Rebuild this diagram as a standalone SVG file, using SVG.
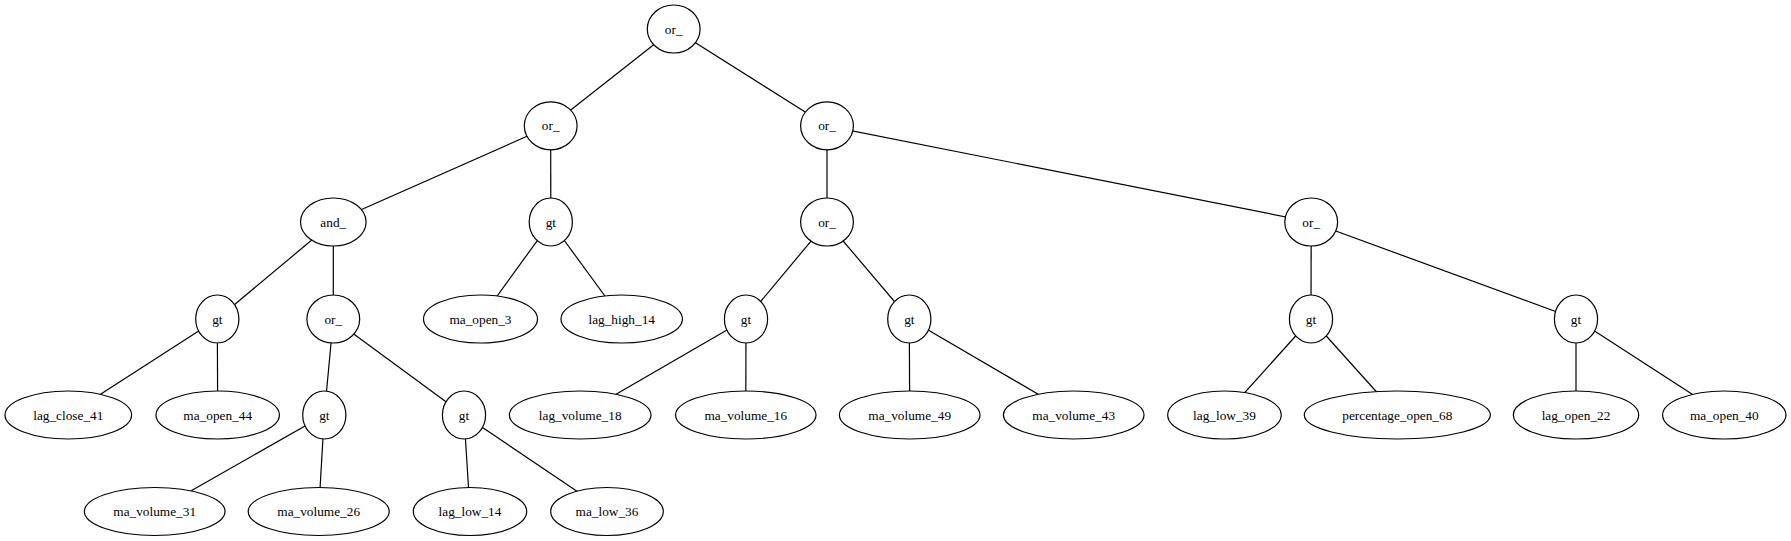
<svg xmlns="http://www.w3.org/2000/svg" width="1791" height="541" viewBox="0 0 1791 541">
<style>
.n ellipse{fill:#fff;stroke:#000;stroke-width:1.2}
.n text{font-family:"Liberation Serif","Times New Roman",serif;font-size:13.3px;text-anchor:middle;fill:#000}
#edges line{stroke:#000;stroke-width:1.2}
</style>
<rect width="1791" height="541" fill="#fff"/>
<g id="edges">
<line x1="673.7" y1="29" x2="550.7" y2="125.8"/>
<line x1="673.7" y1="29" x2="827" y2="125.8"/>
<line x1="550.7" y1="125.8" x2="333.3" y2="222"/>
<line x1="550.7" y1="125.8" x2="550.8" y2="222"/>
<line x1="827" y1="125.8" x2="827" y2="222"/>
<line x1="827" y1="125.8" x2="1311.2" y2="222"/>
<line x1="333.3" y1="222" x2="217.3" y2="319"/>
<line x1="333.3" y1="222" x2="333.3" y2="319"/>
<line x1="550.8" y1="222" x2="480.5" y2="319"/>
<line x1="550.8" y1="222" x2="621.7" y2="319"/>
<line x1="827" y1="222" x2="746" y2="319"/>
<line x1="827" y1="222" x2="909.3" y2="319"/>
<line x1="1311.2" y1="222" x2="1311" y2="319"/>
<line x1="1311.2" y1="222" x2="1576" y2="319"/>
<line x1="217.3" y1="319" x2="68.3" y2="415"/>
<line x1="217.3" y1="319" x2="217.7" y2="415"/>
<line x1="333.3" y1="319" x2="324.3" y2="415"/>
<line x1="333.3" y1="319" x2="464" y2="415"/>
<line x1="746" y1="319" x2="580.2" y2="415"/>
<line x1="746" y1="319" x2="745.8" y2="415"/>
<line x1="909.3" y1="319" x2="909.7" y2="415"/>
<line x1="909.3" y1="319" x2="1073.7" y2="415"/>
<line x1="1311" y1="319" x2="1224.5" y2="415"/>
<line x1="1311" y1="319" x2="1397.3" y2="415"/>
<line x1="1576" y1="319" x2="1576" y2="415"/>
<line x1="1576" y1="319" x2="1724.3" y2="415"/>
<line x1="324.3" y1="415" x2="154.7" y2="511.5"/>
<line x1="324.3" y1="415" x2="318.7" y2="511.5"/>
<line x1="464" y1="415" x2="470" y2="511.5"/>
<line x1="464" y1="415" x2="607" y2="511.5"/>
</g>
<g id="n0" class="n"><ellipse cx="673.7" cy="29" rx="26.4" ry="24"/><text x="673.7" y="33.5">or_</text></g>
<g id="n1" class="n"><ellipse cx="550.7" cy="125.8" rx="26.4" ry="24"/><text x="550.7" y="130.3">or_</text></g>
<g id="n2" class="n"><ellipse cx="827" cy="125.8" rx="26.4" ry="24"/><text x="827" y="130.3">or_</text></g>
<g id="n3" class="n"><ellipse cx="333.3" cy="222" rx="32.8" ry="24"/><text x="333.3" y="226.5">and_</text></g>
<g id="n4" class="n"><ellipse cx="550.8" cy="222" rx="21.6" ry="24"/><text x="550.8" y="226.5">gt</text></g>
<g id="n5" class="n"><ellipse cx="827" cy="222" rx="26.4" ry="24"/><text x="827" y="226.5">or_</text></g>
<g id="n6" class="n"><ellipse cx="1311.2" cy="222" rx="26.4" ry="24"/><text x="1311.2" y="226.5">or_</text></g>
<g id="n7" class="n"><ellipse cx="217.3" cy="319" rx="21.6" ry="24"/><text x="217.3" y="323.5">gt</text></g>
<g id="n8" class="n"><ellipse cx="333.3" cy="319" rx="26.4" ry="24"/><text x="333.3" y="323.5">or_</text></g>
<g id="n9" class="n"><ellipse cx="480.5" cy="319" rx="57" ry="24"/><text x="480.5" y="323.5">ma_open_3</text></g>
<g id="n10" class="n"><ellipse cx="621.7" cy="319" rx="60.7" ry="24"/><text x="621.7" y="323.5">lag_high_14</text></g>
<g id="n11" class="n"><ellipse cx="746" cy="319" rx="21.6" ry="24"/><text x="746" y="323.5">gt</text></g>
<g id="n12" class="n"><ellipse cx="909.3" cy="319" rx="21.6" ry="24"/><text x="909.3" y="323.5">gt</text></g>
<g id="n13" class="n"><ellipse cx="1311" cy="319" rx="21.6" ry="24"/><text x="1311" y="323.5">gt</text></g>
<g id="n14" class="n"><ellipse cx="1576" cy="319" rx="21.6" ry="24"/><text x="1576" y="323.5">gt</text></g>
<g id="n15" class="n"><ellipse cx="68.3" cy="415" rx="63.3" ry="24"/><text x="68.3" y="419.5">lag_close_41</text></g>
<g id="n16" class="n"><ellipse cx="217.7" cy="415" rx="61.7" ry="24"/><text x="217.7" y="419.5">ma_open_44</text></g>
<g id="n17" class="n"><ellipse cx="324.3" cy="415" rx="21.6" ry="24"/><text x="324.3" y="419.5">gt</text></g>
<g id="n18" class="n"><ellipse cx="464" cy="415" rx="21.6" ry="24"/><text x="464" y="419.5">gt</text></g>
<g id="n19" class="n"><ellipse cx="580.2" cy="415" rx="70.8" ry="24"/><text x="580.2" y="419.5">lag_volume_18</text></g>
<g id="n20" class="n"><ellipse cx="745.8" cy="415" rx="70.2" ry="24"/><text x="745.8" y="419.5">ma_volume_16</text></g>
<g id="n21" class="n"><ellipse cx="909.7" cy="415" rx="70.3" ry="24"/><text x="909.7" y="419.5">ma_volume_49</text></g>
<g id="n22" class="n"><ellipse cx="1073.7" cy="415" rx="70.3" ry="24"/><text x="1073.7" y="419.5">ma_volume_43</text></g>
<g id="n23" class="n"><ellipse cx="1224.5" cy="415" rx="56.8" ry="24"/><text x="1224.5" y="419.5">lag_low_39</text></g>
<g id="n24" class="n"><ellipse cx="1397.3" cy="415" rx="93" ry="24"/><text x="1397.3" y="419.5">percentage_open_68</text></g>
<g id="n25" class="n"><ellipse cx="1576" cy="415" rx="62.7" ry="24"/><text x="1576" y="419.5">lag_open_22</text></g>
<g id="n26" class="n"><ellipse cx="1724.3" cy="415" rx="61.7" ry="24"/><text x="1724.3" y="419.5">ma_open_40</text></g>
<g id="n27" class="n"><ellipse cx="154.7" cy="511.5" rx="70.3" ry="24"/><text x="154.7" y="516">ma_volume_31</text></g>
<g id="n28" class="n"><ellipse cx="318.7" cy="511.5" rx="70.5" ry="24"/><text x="318.7" y="516">ma_volume_26</text></g>
<g id="n29" class="n"><ellipse cx="470" cy="511.5" rx="56.7" ry="24"/><text x="470" y="516">lag_low_14</text></g>
<g id="n30" class="n"><ellipse cx="607" cy="511.5" rx="56.3" ry="24"/><text x="607" y="516">ma_low_36</text></g>
</svg>
